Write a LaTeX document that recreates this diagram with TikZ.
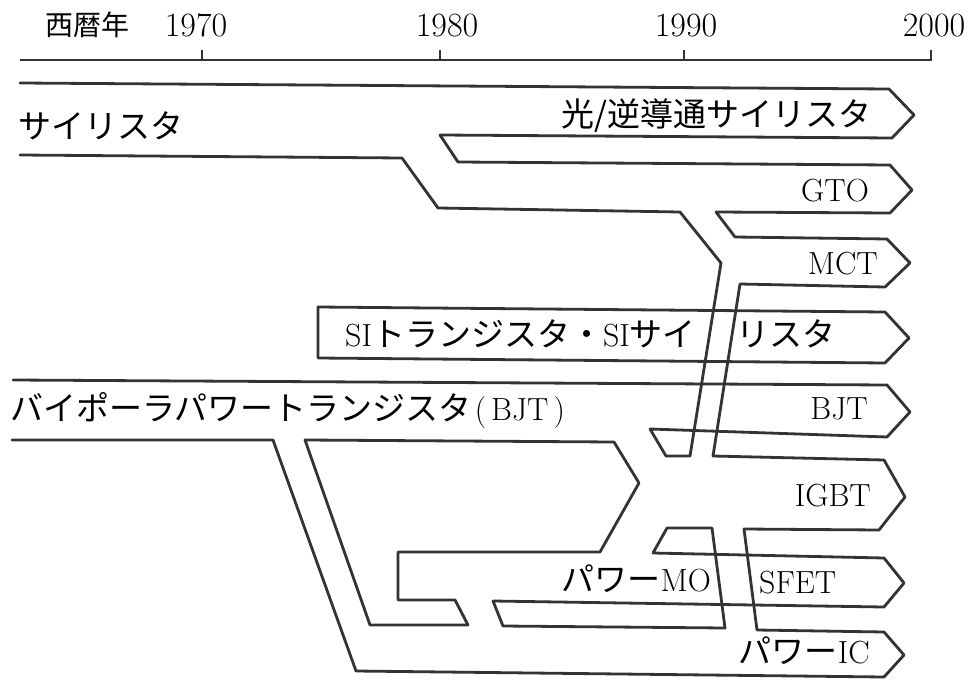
\documentclass[tikz,border=0pt]{standalone}
\usepackage{fontspec}
\newfontfamily\jpf{Noto Sans CJK JP}
\newcommand\latn[1]{{\rmfamily\fontsize{32}{34}\selectfont #1}}
\tikzset{
  band/.style={draw=black!80, line width=2.8pt, line join=round, line cap=round},
  axisline/.style={draw=black!80, line width=1.8pt},
  jlabel/.style={inner sep=0pt, text=black, font=\jpf\fontsize{33}{36}\selectfont},
  llabel/.style={inner sep=0pt, text=black, font=\rmfamily\fontsize{32}{34}\selectfont},
  yearlabel/.style={inner sep=0pt, text=black, anchor=base, font=\rmfamily\fontsize{34}{36}\selectfont},
}
\begin{document}
\begin{tikzpicture}[x=1pt,y=-1pt]
\useasboundingbox (0,0) rectangle (974,682);

% time axis
\draw[axisline] (20,60) -- (931,60) -- (931,50);
\draw[axisline] (202,60) -- (202,50);
\draw[axisline] (440,60) -- (440,50);
\draw[axisline] (684,60) -- (684,50);
\node[jlabel, anchor=base west, font=\jpf\fontsize{28}{30}\selectfont] (era) at (45,36) {西暦年};
\node[yearlabel] (y1970) at (196,37) {1970};
\node[yearlabel] (y1980) at (447,37) {1980};
\node[yearlabel] (y1990) at (686,37) {1990};
\node[yearlabel] (y2000) at (934,37) {2000};

% outer outline: thyristor top -> light/RC thyristor -> GTO -> MCT -> IGBT -> power IC -> BJT lower
\draw[band] (20,83) -- (889,89) -- (914,115) -- (892,138) -- (440,135) -- (458,162)
  -- (890,165) -- (912,190) -- (890,213) -- (716,212) -- (735,237)
  -- (887,239) -- (910,263) -- (885,287) -- (740,284) -- (713,456)
  -- (884,460) -- (905,497) -- (879,530) -- (744,529) -- (757,630)
  -- (884,632) -- (904,655) -- (884,677) -- (356,671) -- (273,440) -- (12,440);

% thyristor lower line -> BJT arrow
\draw[band] (20,155) -- (402,158) -- (438,208) -- (680,212) -- (721,263) -- (690,456)
  -- (666,456) -- (650,429) -- (887,437) -- (910,412) -- (887,385) -- (13,380);

% SI transistor / SI thyristor
\draw[band] (318,307) -- (885,312) -- (909,338) -- (885,363) -- (318,358) -- cycle;

% BJT branch (hexagon)
\draw[band] (305,440) -- (614,442) -- (639,483) -- (600,552) -- (398,552) -- (398,600)
  -- (455,600) -- (468,625) -- (370,625) -- cycle;

% power MOSFET arrow
\draw[band] (653,553) -- (667,528) -- (712,528) -- (725,628) -- (503,626) -- (493,601)
  -- (884,607) -- (904,583) -- (884,558) -- cycle;

% labels
\node[jlabel, anchor=base west] (thy) at (18,139) {サイリスタ};
\node[jlabel, anchor=base east] (lrct) at (872,127) {光/逆導通サイリスタ};
\node[llabel, anchor=base east] (gto) at (869,201) {GTO};
\node[llabel, anchor=base east] (mct) at (878,274) {MCT};
\node[jlabel, anchor=base west] (si1) at (345,346) {\latn{SI}トランジスタ・\latn{SI}サイ};
\node[jlabel, anchor=base west] (si2) at (736,346) {リスタ};
\node[jlabel, anchor=base west] (bjtlong) at (10,420) {バイポーラパワートランジスタ\latn{\kern3pt(\kern5ptBJT\kern5pt)}};
\node[llabel, anchor=base east] (bjt) at (868,419) {BJT};
\node[llabel, anchor=base east] (igbt) at (871,506) {IGBT};
\node[jlabel, anchor=base east] (pmos) at (711,591) {パワー\latn{MO}};
\node[llabel, anchor=base west] (sfet) at (759,593) {SFET};
\node[jlabel, anchor=base east] (pic) at (870,663) {パワー\latn{IC}};
\end{tikzpicture}
\end{document}
